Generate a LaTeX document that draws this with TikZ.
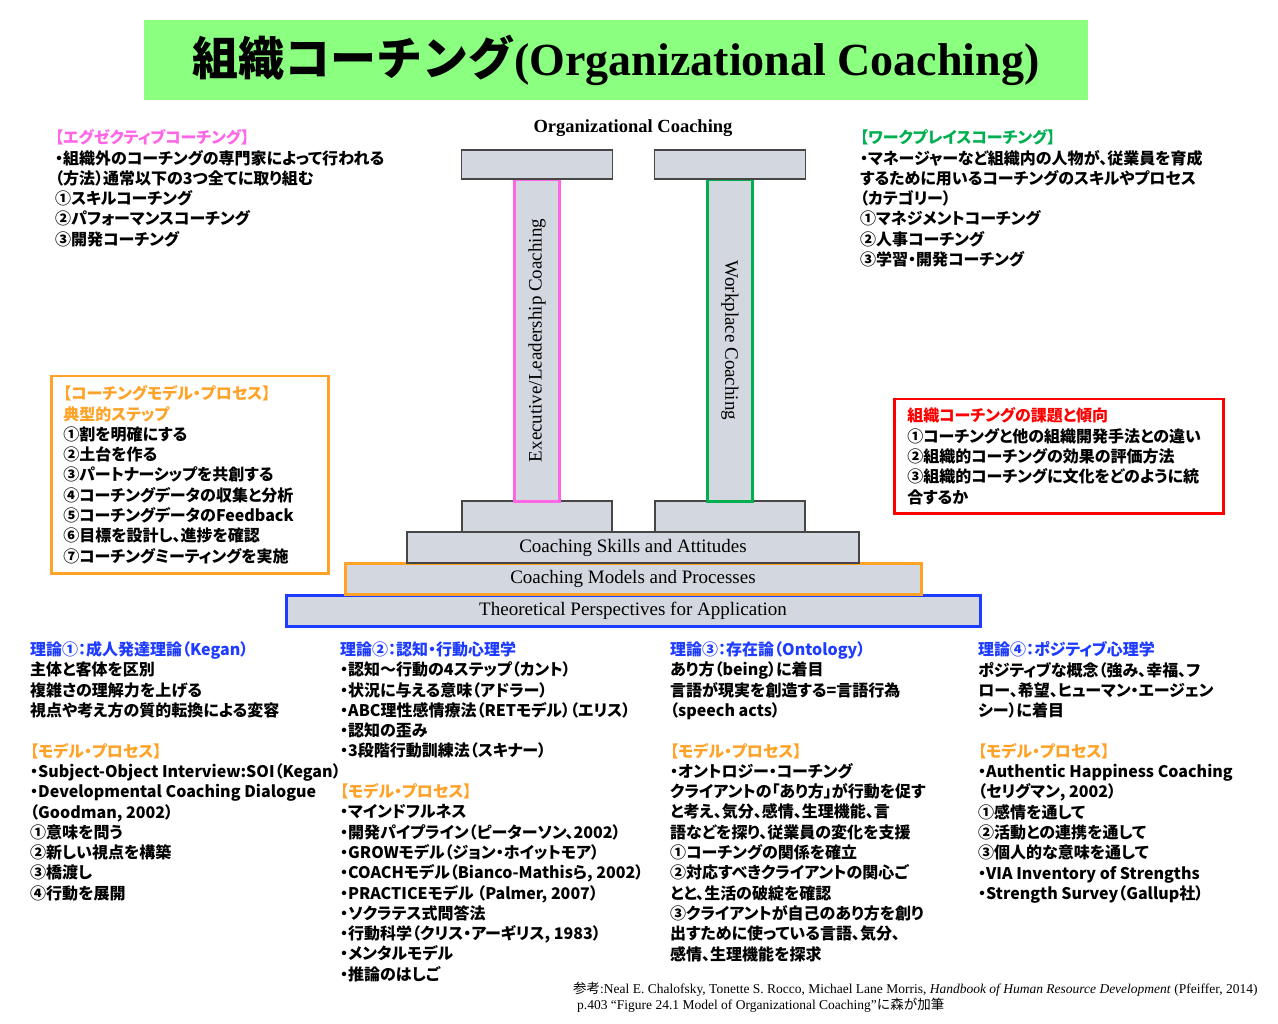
\documentclass[tikz,border=0pt]{standalone}
\usepackage{fontspec}
\usepackage{graphicx}
\usepackage{xcolor}
\usepackage{tikz}
\usetikzlibrary{positioning}
\newfontfamily\jpfont{Noto Sans CJK JP}[RawFeature=+palt]
\newfontfamily\jpplain{Noto Sans CJK JP}
\newfontfamily\timesfont{Liberation Serif}
\definecolor{bannergreen}{RGB}{138,255,128}
\definecolor{pillargray}{RGB}{211,216,224}
\definecolor{pillarline}{RGB}{70,70,70}
\definecolor{execpink}{RGB}{255,102,230}
\definecolor{workgreen}{RGB}{0,176,80}
\definecolor{modelorange}{RGB}{255,162,40}
\definecolor{theoryblue}{RGB}{30,60,255}
\definecolor{issuered}{RGB}{255,0,0}
\newcommand{\pinkhead}[1]{\textcolor{execpink}{#1}}
\newcommand{\greenhead}[1]{\textcolor{workgreen}{#1}}
\newcommand{\orangehead}[1]{\textcolor{modelorange}{#1}}
\newcommand{\bluehead}[1]{\textcolor{theoryblue}{#1}}
\newcommand{\redhead}[1]{\textcolor{issuered}{#1}}

\begin{document}
\begin{tikzpicture}[
  x=1pt, y=-1pt,
  node distance=0pt,
  jptext/.style={anchor=north west, align=left, inner sep=0pt,
                 font=\jpfont\bfseries\fontsize{16}{20.3}\selectfont},
  slab/.style={draw=pillarline, fill=pillargray, line width=1.2pt,
               outer sep=0pt, inner sep=0pt, minimum height=31,
               font=\timesfont\fontsize{19}{21}\selectfont},
  beam/.style={slab, minimum width=151, minimum height=29},
  column/.style={slab, minimum width=45, minimum height=321, line width=3pt},
  notebox/.style={draw, line width=2.5pt, anchor=north west, align=left,
                  inner xsep=12pt, inner ysep=0pt,
                  font=\jpfont\bfseries\fontsize{16}{20.3}\selectfont}
]
  \useasboundingbox (0,0) rectangle (1278,1024);

  % title banner
  \node[fill=bannergreen, minimum width=944, minimum height=80, inner sep=0pt] (banner) at (616,60)
    {\resizebox{847pt}{\height}{\fontsize{46}{50}\selectfont{\jpplain\bfseries 組織コーチング}{\timesfont\bfseries (Organizational Coaching)}}};

  % the temple
  \node[font=\timesfont\bfseries\fontsize{18.5}{20}\selectfont] (temple) at (633,128) {Organizational Coaching};
  \node[slab, draw=theoryblue, line width=3pt, minimum width=694] (theory) at (633,610.5) {Theoretical Perspectives for Application};
  \node[slab, draw=modelorange, line width=3pt, minimum width=576] (models) [above=1pt of theory] {Coaching Models and Processes};
  \node[slab, minimum width=452] (skills) [above=of models] {Coaching Skills and Attitudes};
  \node[slab, minimum width=150] (baseL) [above=of skills, xshift=-96] {};
  \node[slab, minimum width=150] (baseR) [above=of skills, xshift=97] {};
  \node[column, draw=execpink] (exec) [above=of baseL]
    {\rotatebox{90}{Executive/Leadership Coaching}};
  \node[column, draw=workgreen] (work) [above=of baseR]
    {\rotatebox{-90}{Workplace Coaching}};
  \node[beam] (capL) [above=1pt of exec] {};
  \node[beam] (capR) [above=1pt of work] {};

  % upper notes
  \node[jptext] (execnote) at (55,129.5) {\pinkhead{【エグゼクティブコーチング】}\\
    ・組織外のコーチングの専門家によって行われる\\
    （方法）通常以下の3つ全てに取り組む\\
    ①スキルコーチング\\
    ②パフォーマンスコーチング\\
    ③開発コーチング};
  \node[jptext] (worknote) at (860,129.5) {\greenhead{【ワークプレイスコーチング】}\\
    ・マネージャーなど組織内の人物が、従業員を育成\\
    するために用いるコーチングのスキルやプロセス\\
    （カテゴリー）\\
    ①マネジメントコーチング\\
    ②人事コーチング\\
    ③学習・開発コーチング};

  \node[notebox, draw=modelorange, text width=253, minimum height=197] (steps) at (50,375)
    {\orangehead{【コーチングモデル・プロセス】}\\
    \orangehead{典型的ステップ}\\
    ①割を明確にする\\
    ②土台を作る\\
    ③パートナーシップを共創する\\
    ④コーチングデータの収集と分析\\
    ⑤コーチングデータのFeedback\\
    ⑥目標を設計し、進捗を確認\\
    ⑦コーチングミーティングを実施};
  \node[notebox, draw=issuered, text width=303, inner xsep=13pt, minimum height=114] (issues) at (893,398)
    {\redhead{組織コーチングの課題と傾向}\\
    ①コーチングと他の組織開発手法との違い\\
    ②組織的コーチングの効果の評価方法\\
    ③組織的コーチングに文化をどのように統\\
    合するか};

  % theories
  \node[jptext] (theory1) at (30,641.5) {\bluehead{理論①：成人発達理論（Kegan）}\\
    主体と客体を区別\\
    複雑さの理解力を上げる\\
    視点や考え方の質的転換による変容\\[20.3pt]
    \orangehead{【モデル・プロセス】}\\
    ・Subject-Object Interview:SOI（Kegan）\\
    ・Developmental Coaching Dialogue\\
    （Goodman, 2002）\\
    ①意味を問う\\
    ②新しい視点を構築\\
    ③橋渡し\\
    ④行動を展開};
  \node[jptext] (theory2) at (340,641.5) {\bluehead{理論②：認知・行動心理学}\\
    ・認知～行動の4ステップ（カント）\\
    ・状況に与える意味（アドラー）\\
    ・ABC理性感情療法（RETモデル）（エリス）\\
    ・認知の歪み\\
    ・3段階行動訓練法（スキナー）\\[20.3pt]
    \orangehead{【モデル・プロセス】}\\
    ・マインドフルネス\\
    ・開発パイプライン（ピーターソン、2002）\\
    ・GROWモデル（ジョン・ホイットモア）\\
    ・COACHモデル（Bianco-Mathisら, 2002）\\
    ・PRACTICEモデル （Palmer, 2007）\\
    ・ソクラテス式問答法\\
    ・行動科学（クリス・アーギリス, 1983）\\
    ・メンタルモデル\\
    ・推論のはしご};
  \node[jptext] (theory3) at (670,641.5) {\bluehead{理論③：存在論（Ontology）}\\
    あり方（being）に着目\\
    言語が現実を創造する=言語行為\\
    （speech acts）\\[20.3pt]
    \orangehead{【モデル・プロセス】}\\
    ・オントロジー・コーチング\\
    クライアントの「あり方」が行動を促す\\
    と考え、気分、感情、生理機能、言\\
    語などを探り、従業員の変化を支援\\
    ①コーチングの関係を確立\\
    ②対応すべきクライアントの関心ご\\
    とと、生活の破綻を確認\\
    ③クライアントが自己のあり方を創り\\
    出すために使っている言語、気分、\\
    感情、生理機能を探求};
  \node[jptext] (theory4) at (978,641.5) {\bluehead{理論④：ポジティブ心理学}\\
    ポジティブな概念（強み、幸福、フ\\
    ロー、希望、ヒューマン・エージェン\\
    シー）に着目\\[20.3pt]
    \orangehead{【モデル・プロセス】}\\
    ・Authentic Happiness Coaching\\
    （セリグマン, 2002）\\
    ①感情を通して\\
    ②活動との連携を通して\\
    ③個人的な意味を通して\\
    ・VIA Inventory of Strengths\\
    ・Strength Survey（Gallup社）};

  % source
  \node[anchor=north west, inner sep=0pt, align=left, font=\timesfont\fontsize{13.5}{16}\selectfont] (source) at (573,982)
    {{\jpplain 参考}:Neal E. Chalofsky, Tonette S. Rocco, Michael Lane Morris, \textit{Handbook of Human Resource Development} (Pfeiffer, 2014)\\
    \hspace*{4pt}p.403 “Figure 24.1 Model of Organizational Coaching”{\jpplain に森が加筆}};
\end{tikzpicture}
\end{document}
